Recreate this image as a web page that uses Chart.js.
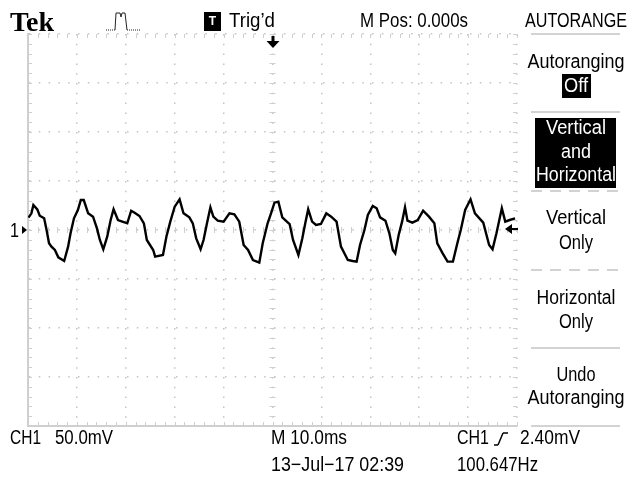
<!DOCTYPE html>
<html lang="en">
<head>
<meta charset="UTF-8">
<title>Tek scope</title>
<style>
  html, body { margin: 0; padding: 0; background: #fff; }
  canvas { display: block; filter: blur(0.35px); }
</style>
</head>
<body>
<canvas id="scope" width="627" height="477"></canvas>
<script src="https://cdn.jsdelivr.net/npm/chart.js@4"></script>
<script>
// CH1 trace, time in ms from trigger, voltage in mV
const timeMs = [-49.9,-49.3,-48.9,-48.1,-47.6,-46.7,-46.2,-45.7,-45.2,-44.5,-43.8,-42.6,-41.8,-41.3,-40.6,-39.8,-39.2,-38.6,-37.7,-36.7,-35.9,-35.3,-34.6,-33.8,-33.1,-32.5,-31.6,-30.7,-29.7,-28.9,-28.2,-27.2,-26.3,-25.7,-24.4,-24.0,-22.4,-21.7,-20.9,-20.0,-19.0,-18.2,-17.0,-16.3,-15.6,-14.7,-14.1,-13.4,-12.7,-12.1,-11.2,-10.0,-8.8,-7.8,-6.8,-5.9,-5.0,-4.0,-2.7,-2.0,-1.0,-0.3,0.4,1.2,2.0,3.5,4.2,5.3,6.1,6.7,7.3,8.1,8.9,9.9,11.0,12.0,13.1,14.0,15.4,16.4,17.2,17.9,18.8,19.5,20.5,21.3,22.0,23.1,23.9,24.6,25.1,25.8,26.5,27.1,27.6,28.6,29.7,30.8,32.0,33.1,33.7,34.8,35.8,36.9,37.8,38.5,39.4,40.5,41.4,43.1,44.3,45.0,45.8,46.9,47.6,48.5,49.6];
const ch1mV = [12.6,17,25.5,21.1,14.6,11.9,0,-13.6,-17,-20.4,-27.9,-31.6,-17,-3.4,11.9,20.4,30.6,30.6,17,13.6,1.7,-10.2,-19.7,-6.8,10.2,21.1,10.2,8.5,6.8,19.7,17.7,14.3,6.8,-10.2,-20.4,-27.2,-25.5,-6.8,8.5,23.8,31.3,17,12.9,6.8,-8.5,-19.7,-10.2,6.8,23.1,13.6,9.5,8.5,17,16,8.5,-15.3,-20.4,-30.6,-33.3,-13.6,6.8,17,27.9,28.9,12.9,6.1,-10.2,-25.5,-8.5,6.8,21.1,8.5,5.1,6.1,17,13.6,8.5,-17,-30.6,-31.6,-32.3,-15.3,0,15.3,24.5,22.1,12.9,9.5,-3.4,-20.4,-23.8,-5.1,8.5,23.1,9.5,7.5,10.2,19.7,13.6,6.8,-13.6,-23.8,-32.3,-32.3,-13.6,0,20.4,31.3,17,7.5,-15.3,-19.7,-3.4,22.1,8.5,10.2,11.9];

// screen text, w is the width the text is squeezed to
const readouts = [
  { text: 'Trig\u2019d', x: 229, y: 21, w: 46 },
  { text: 'M Pos: 0.000s', x: 360, y: 21, w: 108 },
  { text: 'CH1', x: 10, y: 438, w: 31 },
  { text: '50.0mV', x: 55, y: 438, w: 58 },
  { text: 'M 10.0ms', x: 271, y: 438, w: 76 },
  { text: 'CH1', x: 457, y: 438, w: 32 },
  { text: '2.40mV', x: 520, y: 438, w: 60 },
  { text: '13\u2212Jul\u221217 02:39', x: 271, y: 465, w: 133 },
  { text: '100.647Hz', x: 457, y: 465, w: 81 }
];
const menuTexts = [
  { text: 'AUTORANGE', y: 21, w: 102 },
  { text: 'Autoranging', y: 62, w: 97 },
  { text: 'Off', y: 86, w: 24, color: '#fff' },
  { text: 'Vertical', y: 128, w: 60, color: '#fff' },
  { text: 'and', y: 152, w: 30, color: '#fff' },
  { text: 'Horizontal', y: 175, w: 80, color: '#fff' },
  { text: 'Vertical', y: 218, w: 60 },
  { text: 'Only', y: 243, w: 34 },
  { text: 'Horizontal', y: 298, w: 79 },
  { text: 'Only', y: 322, w: 34 },
  { text: 'Undo', y: 375, w: 39 },
  { text: 'Autoranging', y: 398, w: 97 }
];

const UI_FONT = '"Liberation Sans", sans-serif';
const FRAME = '#cfcfcf';

function line(ctx, x1, y1, x2, y2) {
  ctx.beginPath();
  ctx.moveTo(x1, y1);
  ctx.lineTo(x2, y2);
  ctx.stroke();
}

function poly(ctx, pts) {
  ctx.beginPath();
  pts.forEach((p, i) => i ? ctx.lineTo(p[0], p[1]) : ctx.moveTo(p[0], p[1]));
  ctx.closePath();
  ctx.fill();
}

// tick marks on the frame and on the two centre lines
const graticule = {
  id: 'graticule',
  beforeDatasetsDraw(chart) {
    const { ctx, scales: { x, y } } = chart;
    const cx = x.getPixelForValue(0);
    const cy = y.getPixelForValue(0);
    ctx.save();
    ctx.strokeStyle = FRAME;
    ctx.lineWidth = 1;
    for (let t = -50; t <= 50; t += 2) {
      const px = Math.round(x.getPixelForValue(t)) + 0.5;
      line(ctx, px, y.top, px, y.top + 4);
      line(ctx, px, y.bottom - 4, px, y.bottom);
      line(ctx, px, cy - 3, px, cy + 3);
    }
    for (let v = -200; v <= 200; v += 10) {
      const py = Math.round(y.getPixelForValue(v)) + 0.5;
      line(ctx, x.left, py, x.left + 4, py);
      line(ctx, x.right - 4, py, x.right, py);
      line(ctx, cx - 3, py, cx + 3, py);
    }
    ctx.restore();
  }
};

const screenText = {
  id: 'screenText',
  afterDraw(chart) {
    const { ctx, scales: { x, y } } = chart;
    ctx.save();

    // menu boxes and separators
    ctx.fillStyle = '#000';
    ctx.fillRect(535, 118, 81, 70);
    ctx.fillRect(562, 74, 29, 24);
    ctx.fillRect(204, 12, 17, 19);
    ctx.strokeStyle = '#c4c4c4';
    ctx.lineWidth = 1.5;
    [34, 112, 348, 426].forEach(py => line(ctx, 531, py, 620, py));
    ctx.setLineDash([11, 8]);
    [191, 270].forEach(py => line(ctx, 531, py, 620, py));
    ctx.setLineDash([]);

    // pulse icon
    ctx.strokeStyle = '#222';
    ctx.lineWidth = 1;
    ctx.beginPath();
    ctx.moveTo(115, 30);
    ctx.lineTo(116, 13);
    ctx.lineTo(120, 13);
    ctx.lineTo(121, 17);
    ctx.lineTo(122, 13);
    ctx.lineTo(125, 13);
    ctx.lineTo(127, 30);
    ctx.stroke();
    ctx.setLineDash([1, 1]);
    line(ctx, 106, 30, 115, 30);
    line(ctx, 127, 30, 141, 30);
    ctx.setLineDash([]);

    // trigger slope mark
    ctx.lineWidth = 1.5;
    ctx.strokeStyle = '#000';
    line(ctx, 498, 445, 503, 433);
    line(ctx, 503, 433, 508, 433);
    line(ctx, 494, 445, 498, 445);

    // ch1 ground, trigger position and trigger level arrows
    const cx = x.getPixelForValue(0);
    const cy = y.getPixelForValue(0);
    ctx.fillStyle = '#000';
    poly(ctx, [[cx - 6, 41], [cx + 7, 41], [cx + 0.5, 48]]);
    ctx.fillRect(cx - 1, 36, 3, 6);
    poly(ctx, [[x.left - 1, cy], [x.left - 6, cy - 4], [x.left - 6, cy + 4]]);
    poly(ctx, [[505, cy - 1], [512, cy - 6], [512, cy + 4]]);
    ctx.fillRect(510, cy - 2, 8, 2);

    // text
    ctx.textBaseline = 'middle';
    ctx.fillStyle = '#000';
    ctx.font = 'bold 28px "Liberation Serif", serif';
    ctx.fillText('Tek', 10, 24);
    ctx.font = 'bold 12px "Liberation Sans", sans-serif';
    ctx.fillStyle = '#fff';
    ctx.textAlign = 'center';
    ctx.fillText('T', 212.5, 22);
    ctx.fillStyle = '#000';
    ctx.textAlign = 'left';
    ctx.font = '20px ' + UI_FONT;
    ctx.fillText('1', 10, 231, 9);
    readouts.forEach(t => ctx.fillText(t.text, t.x, t.y, t.w));
    ctx.textAlign = 'center';
    menuTexts.forEach(t => {
      ctx.fillStyle = t.color || '#000';
      ctx.fillText(t.text, 576, t.y, t.w);
    });
    ctx.restore();
  }
};

new Chart(document.getElementById('scope'), {
  type: 'line',
  data: {
    labels: timeMs,
    datasets: [{
      label: 'CH1',
      data: timeMs.map((t, i) => ({ x: t, y: ch1mV[i] })),
      borderColor: '#000',
      borderWidth: 2.4,
      pointRadius: 0,
      tension: 0,
      fill: false
    }]
  },
  options: {
    responsive: false,
    animation: false,
    layout: { padding: { left: 28, top: 34, right: 110, bottom: 51 } },
    plugins: { legend: { display: false }, tooltip: { enabled: false } },
    scales: {
      x: {
        type: 'linear',
        min: -50,
        max: 50,
        ticks: { display: false, stepSize: 10 },
        border: { display: true, color: FRAME, width: 2, dash: [1.5, 8.3] },
        grid: { color: '#c4c4c4', lineWidth: 1.5, drawTicks: false }
      },
      y: {
        min: -200,
        max: 200,
        ticks: { display: false, stepSize: 50 },
        border: { display: true, color: FRAME, width: 2, dash: [1.5, 8.3] },
        grid: { color: '#c4c4c4', lineWidth: 1.5, drawTicks: false }
      }
    }
  },
  plugins: [graticule, screenText]
});
</script>
</body>
</html>
